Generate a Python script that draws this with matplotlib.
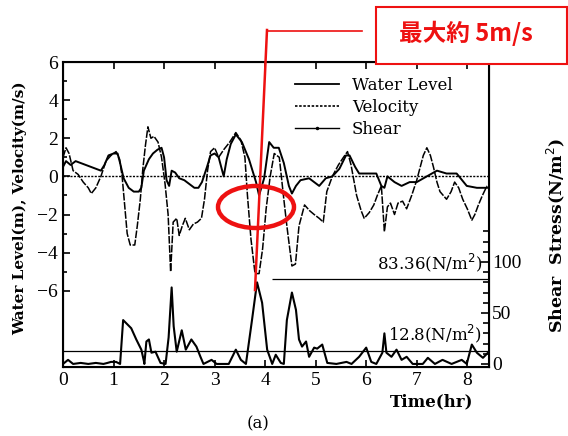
import numpy as np
import matplotlib.pyplot as plt
from matplotlib.patches import Ellipse, Rectangle
from matplotlib.lines import Line2D

# velocity (m/s), dashed curve
vel_t = [0.0, 0.06, 0.12, 0.2, 0.3, 0.4, 0.5, 0.56, 0.65, 0.75, 0.85, 0.95, 1.05, 1.12,
         1.17, 1.22, 1.27, 1.33, 1.42, 1.47, 1.53, 1.58, 1.63, 1.68, 1.74, 1.8, 1.88, 1.95,
         2.02, 2.08, 2.13, 2.18, 2.25, 2.3, 2.36, 2.42, 2.5, 2.58, 2.66, 2.74, 2.8, 2.86,
         2.92, 3.0, 3.08, 3.18, 3.3, 3.42, 3.52, 3.6, 3.65, 3.72, 3.8, 3.88, 3.95, 4.02,
         4.1, 4.18, 4.28, 4.37, 4.43, 4.53, 4.6, 4.67, 4.78, 4.88, 4.97, 5.07, 5.15, 5.22,
         5.33, 5.45, 5.55, 5.63, 5.7, 5.81, 5.9, 5.96, 6.06, 6.15, 6.22, 6.3, 6.36, 6.42,
         6.48, 6.56, 6.63, 6.72, 6.8, 6.9, 7.0, 7.06, 7.13, 7.2, 7.27, 7.33, 7.4, 7.46,
         7.59, 7.68, 7.75, 7.83, 7.91, 8.0, 8.09, 8.15, 8.22, 8.3, 8.39]
vel = [1.0, 1.5, 1.2, 0.3, 0.1, -0.3, -0.6, -0.9, -0.6, 0.0, 0.8, 1.1, 1.3, 0.9,
       0.0, -1.5, -3.0, -3.6, -3.6, -2.6, -1.2, 0.4, 1.6, 2.6, 2.0, 2.1, 1.8, 1.0,
       -0.4, -2.0, -5.0, -2.4, -2.2, -3.1, -2.6, -2.2, -2.8, -2.5, -2.4, -2.2, -1.2, 0.3,
       1.3, 1.5, 1.0, 1.4, 1.8, 2.3, 1.9, 1.0, -1.0, -3.3, -5.1, -5.1, -3.8, -1.7,
       0.0, 1.2, 1.0, -1.2, -2.6, -4.7, -4.6, -2.6, -1.5, -1.8, -2.0, -2.2, -2.4, -0.8,
       0.0, 0.6, 1.0, 1.3, 0.6, -1.0, -1.8, -2.2, -1.9, -1.5, -1.0, -0.5, -2.9, -1.6,
       -1.4, -2.0, -1.4, -1.3, -1.7, -1.0, -0.2, 0.4, 1.1, 1.5, 1.1, 0.5, -0.3, -0.8,
       -1.2, -0.8, -0.3, -0.6, -1.2, -1.7, -2.3, -2.0, -1.5, -1.0, -0.5]

# water level (m), solid curve
wl_t = [0.0, 0.06, 0.15, 0.25, 0.35, 0.45, 0.55, 0.65, 0.75, 0.82, 0.9, 1.0, 1.08, 1.13,
        1.2, 1.3, 1.4, 1.5, 1.55, 1.6, 1.7, 1.78, 1.87, 1.95, 2.0, 2.05, 2.1, 2.15, 2.22,
        2.3, 2.4, 2.5, 2.6, 2.68, 2.75, 2.85, 2.92, 3.0, 3.08, 3.18, 3.24, 3.32, 3.42,
        3.54, 3.68, 3.82, 3.88, 3.98, 4.08, 4.17, 4.27, 4.37, 4.47, 4.53, 4.61, 4.7, 4.87,
        5.07, 5.2, 5.33, 5.47, 5.6, 5.67, 5.78, 5.86, 6.06, 6.2, 6.3, 6.36, 6.42, 6.56,
        6.7, 6.86, 7.0, 7.2, 7.4, 7.59, 7.79, 7.99, 8.19, 8.39]
wl = [0.5, 0.8, 0.6, 0.8, 0.7, 0.6, 0.5, 0.4, 0.3, 0.6, 1.1, 1.2, 1.2, 0.7,
      -0.1, -0.6, -0.8, -0.8, -0.6, 0.3, 0.9, 1.2, 1.4, 1.5, 1.0, -0.2, -0.5, 0.3, 0.2,
      -0.1, -0.2, -0.4, -0.6, -0.6, -0.3, 0.5, 1.1, 1.2, 1.0, 0.0, 0.9, 1.7, 2.2,
      1.8, 0.9, -0.3, -1.0, -0.1, 1.8, 1.5, 1.5, 0.7, -0.5, -0.9, -0.5, -0.2, -0.1,
      -0.5, -0.1, 0.0, 0.4, 1.1, 1.1, 0.5, 0.15, 0.15, 0.15, -0.5, -0.6, 0.0, -0.3,
      -0.5, -0.3, -0.3, 0.0, 0.3, 0.15, 0.15, -0.5, -0.6, -0.6]

# shear stress (N/m2), bottom curve
sh_t = [0.0, 0.05, 0.1, 0.15, 0.2, 0.35, 0.5, 0.65, 0.8, 0.88, 0.95, 1.05, 1.13, 1.19,
        1.25, 1.35, 1.45, 1.55, 1.6, 1.61, 1.65, 1.7, 1.75, 1.83, 1.93, 2.03, 2.09, 2.15,
        2.19, 2.25, 2.35, 2.43, 2.54, 2.64, 2.72, 2.78, 2.94, 3.04, 3.28, 3.42, 3.52, 3.62,
        3.74, 3.84, 3.94, 4.04, 4.14, 4.21, 4.31, 4.37, 4.43, 4.53, 4.61, 4.67, 4.73, 4.81,
        4.87, 4.97, 5.03, 5.13, 5.23, 5.41, 5.61, 5.71, 5.86, 6.0, 6.1, 6.2, 6.32, 6.36,
        6.4, 6.5, 6.6, 6.7, 6.8, 6.92, 7.12, 7.22, 7.36, 7.51, 7.69, 7.89, 7.99, 8.09,
        8.19, 8.31, 8.41]
sh = [0, 2, 4, 2, 0, 1, 0, 1, 0, 1, 2, 2, 0, 43,
      40, 35, 24, 14, 3, 0, 22, 24, 11, 12, 1, 0, 26, 75,
      37, 12, 33, 14, 24, 17, 7, 0, 4, 0, 0, 14, 4, 0,
      43, 80, 60, 14, 0, 9, 1, 0, 43, 70, 53, 24, 17, 22,
      7, 16, 15, 19, 1, 0, 2, 0, 7, 16, 2, 0, 11, 30,
      11, 7, 14, 4, 7, 0, 0, 6, 0, 4, 0, 4, 0, 19,
      11, 6, 11]

shear_max = 83.36
shear_mean = 12.8

serif = 'DejaVu Serif'
tick_font = 'Liberation Serif'

fig = plt.figure(figsize=(5.68, 4.36), dpi=100)
ax = fig.add_axes([63/568, 1 - 367/436, 426/568, 305/436])
ax2 = ax.twinx()

ax.plot(wl_t, wl, color='black', lw=1.4)
ax.plot(vel_t, vel, color='black', lw=1.1, ls=(0, (5, 1)))
ax.axhline(0, color='black', lw=1.0, ls=(0, (1.5, 1)))
ax.set_xlim(0, 8.43)
ax.set_ylim(-10, 6)
ax.set_yticks([-6, -4, -2, 0, 2, 4, 6])
ax.set_yticks([-5, -3, -1, 1, 3, 5], minor=True)
ax.set_xticks(range(9))
ax.tick_params(direction='in', top=True, labelsize=14, length=5, width=1.2)
ax.tick_params(which='minor', direction='in', length=3, width=1.2)
for lab in ax.get_xticklabels() + ax.get_yticklabels():
    lab.set_family(tick_font)
ax.set_ylabel('Water Level(m), Velocity(m/s)', family=serif, fontweight='bold',
              fontsize=11)
ax.yaxis.set_label_coords(-0.085, 0.52)
for s in ax.spines.values():
    s.set_linewidth(1.5)

ax2.plot(sh_t, sh, color='black', lw=1.5)
ax2.axhline(shear_mean, color='black', lw=0.9)
ax2.hlines(shear_max, 4.14, 8.43, color='black', lw=0.9)
ax2.set_ylim(-3, 296)
ax2.set_yticks([0, 50, 100])
ax2.set_yticks(np.arange(10, 140, 10), minor=True)
ax2.tick_params(direction='in', labelsize=14, length=6, width=1.2, pad=2)
ax2.tick_params(which='minor', direction='in', length=4, width=1.2)
for lab in ax2.get_yticklabels():
    lab.set_family(tick_font)
ax2.set_ylabel('Shear  Stress(N/m$^2$)', family=serif, fontweight='bold', fontsize=12.5)
ax2.yaxis.set_label_coords(1.13, 0.43)
ax2.text(8.3, shear_max + 5, '83.36(N/m$^2$)', family=serif, fontsize=12,
         ha='right', va='bottom')
ax2.text(8.3, shear_mean + 6, '12.8(N/m$^2$)', family=serif, fontsize=12,
         ha='right', va='bottom')

handles = [Line2D([], [], color='black', lw=1.3),
           Line2D([], [], color='black', lw=1.2, ls=(0, (1.5, 1))),
           Line2D([], [], color='black', lw=1.0, marker='.', markersize=3,
                  markevery=[0, -1])]
ax.legend(handles, ['Water Level', 'Velocity', 'Shear'], loc='upper left',
          bbox_to_anchor=(0.51, 1.0), frameon=False, prop={'family': serif, 'size': 12},
          handlelength=2.6, labelspacing=0.3)

fig.text(432/568, 1 - 402/436, 'Time(hr)', family=serif, fontweight='bold',
         fontsize=12, ha='center', va='center')
fig.text(258/568, 1 - 424/436, '(a)', family=serif, fontsize=12, ha='center', va='center')

# red callout
fig.add_artist(Ellipse((256/568, 1 - 207/436), 76/568, 42/436, transform=fig.transFigure,
                       fill=False, edgecolor='#ee1111', lw=3.2))
fig.add_artist(Line2D([267/568, 255/568], [1 - 30/436, 1 - 290/436],
                      transform=fig.transFigure, color='#ee1111', lw=1.8))
fig.add_artist(Line2D([267/568, 362/568], [1 - 31/436, 1 - 31/436],
                      transform=fig.transFigure, color='#ee1111', lw=1.2))
fig.add_artist(Rectangle((376/568, 1 - 64/436), 191/568, 57/436, transform=fig.transFigure,
                         facecolor='white', edgecolor='#ee1111', lw=1.5))
fig.text(466/568, 1 - 33/436, '最大約 5m/s', family=['Noto Sans CJK JP', 'DejaVu Sans'],
         fontweight='bold', fontsize=17, color='#ee1111', ha='center', va='center')

fig.savefig('out.png', dpi=100)
